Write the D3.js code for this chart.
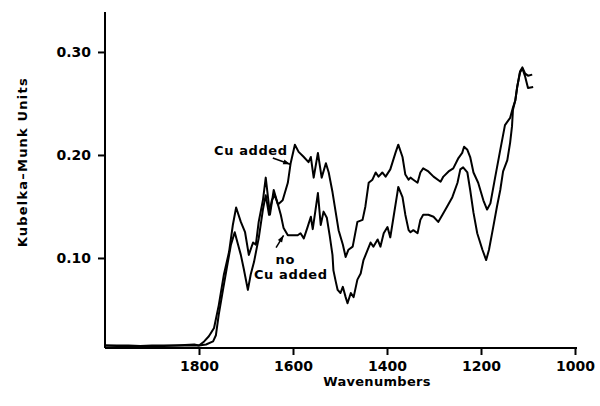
<!DOCTYPE html>
<html>
<head>
<meta charset="utf-8">
<script src="https://cdn.jsdelivr.net/npm/d3@7"></script>
<style>
  html, body { margin: 0; padding: 0; background: #fff; }
  svg text { font-family: "DejaVu Sans", sans-serif; font-weight: bold; fill: #000; }
</style>
</head>
<body>
<svg id="chart" width="600" height="406"></svg>
<script>
// Wavenumbers (cm-1) and Kubelka-Munk values
const cuAddedWave = [2000,1950,1900,1850,1810,1800,1789,1779,1768,1758,1747,1736,1728,1721,1711,1702,1694,1685,1679,1673,1664,1658,1649,1641,1632,1622,1611,1605,1596,1588,1577,1567,1562,1556,1547,1539,1530,1524,1516,1509,1503,1494,1488,1482,1473,1463,1452,1446,1439,1431,1424,1418,1410,1403,1393,1382,1376,1367,1361,1354,1350,1344,1335,1329,1323,1312,1301,1286,1280,1269,1259,1248,1240,1236,1229,1223,1216,1206,1195,1187,1180,1170,1159,1149,1138,1132,1127,1123,1117,1112,1106,1100,1091];
const cuAddedValue = [0.015,0.015,0.014,0.015,0.016,0.015,0.019,0.024,0.032,0.054,0.084,0.106,0.132,0.149,0.135,0.125,0.103,0.115,0.113,0.135,0.156,0.178,0.142,0.166,0.152,0.156,0.173,0.192,0.210,0.203,0.198,0.193,0.198,0.178,0.202,0.178,0.192,0.183,0.164,0.144,0.127,0.113,0.101,0.108,0.111,0.135,0.137,0.150,0.173,0.176,0.183,0.179,0.183,0.179,0.186,0.202,0.210,0.198,0.181,0.176,0.178,0.176,0.173,0.183,0.187,0.184,0.179,0.174,0.179,0.184,0.187,0.197,0.202,0.208,0.205,0.198,0.183,0.173,0.156,0.147,0.153,0.178,0.205,0.229,0.236,0.246,0.253,0.266,0.281,0.285,0.279,0.277,0.278];

const noCuWave = [2000,1950,1900,1850,1810,1800,1785,1770,1764,1758,1749,1741,1732,1724,1717,1711,1705,1696,1690,1683,1677,1673,1664,1658,1651,1645,1639,1632,1626,1620,1611,1590,1584,1577,1569,1562,1558,1552,1547,1541,1535,1528,1522,1516,1514,1509,1505,1499,1494,1488,1484,1477,1471,1463,1456,1450,1441,1435,1429,1420,1414,1407,1399,1393,1386,1378,1376,1367,1361,1354,1350,1344,1335,1329,1323,1312,1301,1291,1282,1272,1261,1250,1244,1238,1229,1223,1216,1208,1197,1189,1183,1174,1166,1159,1153,1144,1138,1134,1132,1127,1123,1117,1112,1106,1100,1089];
const noCuValue = [0.015,0.014,0.015,0.015,0.015,0.015,0.016,0.019,0.025,0.045,0.069,0.090,0.113,0.125,0.113,0.103,0.090,0.069,0.084,0.096,0.110,0.119,0.147,0.161,0.142,0.156,0.161,0.152,0.142,0.129,0.122,0.122,0.124,0.119,0.130,0.140,0.128,0.147,0.163,0.132,0.145,0.139,0.122,0.103,0.088,0.077,0.069,0.066,0.072,0.062,0.056,0.066,0.062,0.079,0.085,0.098,0.108,0.115,0.111,0.118,0.111,0.124,0.130,0.120,0.140,0.163,0.169,0.159,0.142,0.127,0.125,0.127,0.124,0.137,0.142,0.142,0.140,0.135,0.142,0.150,0.159,0.173,0.186,0.188,0.183,0.166,0.144,0.124,0.108,0.098,0.108,0.130,0.150,0.166,0.184,0.195,0.212,0.228,0.244,0.253,0.266,0.280,0.284,0.276,0.265,0.266];

const xTicks = [1800, 1600, 1400, 1200, 1000];
const yTicks = [0.10, 0.20, 0.30];
const yTickLabels = ["0.10", "0.20", "0.30"];

const svg = d3.select("#chart");
const x = d3.scaleLinear().domain([2000, 1000]).range([105, 575]);
const y = d3.scaleLinear().domain([0.0126, 0.3388]).range([348, 12]);

// Axes
const xAxis = d3.axisBottom(x).tickValues(xTicks).tickSize(7).tickPadding(6).tickFormat(d3.format("d"));
const gx = svg.append("g").attr("transform", `translate(0,${y.range()[0]})`).call(xAxis);
gx.select(".domain").attr("d", `M${x(2000)},0H${x(1000) + 2}`).attr("stroke", "#000").attr("stroke-width", 2);
gx.selectAll(".tick line").attr("stroke", "#000").attr("stroke-width", 2);
gx.selectAll(".tick text").attr("font-size", 14).attr("font-family", "DejaVu Sans").attr("font-weight", "bold").attr("fill", "#000");

const yAxis = d3.axisLeft(y).tickValues(yTicks).tickSize(7).tickPadding(7).tickFormat((d, i) => yTickLabels[i]);
const gy = svg.append("g").attr("transform", `translate(${x.range()[0]},0)`).call(yAxis);
gy.select(".domain").attr("d", `M0,${y.range()[0]}V${y.range()[1]}`).attr("stroke", "#000").attr("stroke-width", 2);
gy.selectAll(".tick line").attr("stroke", "#000").attr("stroke-width", 2);
gy.selectAll(".tick text").attr("font-size", 14).attr("font-family", "DejaVu Sans").attr("font-weight", "bold").attr("fill", "#000");

// Axis titles
svg.append("text").attr("x", 377).attr("y", 386)
  .attr("text-anchor", "middle").attr("font-size", 13).attr("letter-spacing", 0.3).text("Wavenumbers");
svg.append("text").attr("transform", `translate(27,${y(0.193)}) rotate(-90)`)
  .attr("text-anchor", "middle").attr("font-size", 13).attr("letter-spacing", 1.2).text("Kubelka\u2013Munk  Units");

// Curves
const line = d3.line().x(d => x(d[0])).y(d => y(d[1])).curve(d3.curveLinear);
const cuAdded = cuAddedWave.map((w, i) => [w, cuAddedValue[i]]);
const noCu = noCuWave.map((w, i) => [w, noCuValue[i]]);
[cuAdded, noCu].forEach(s => {
  svg.append("path").datum(s).attr("d", line).attr("fill", "none")
    .attr("stroke", "#000").attr("stroke-width", 2).attr("stroke-linejoin", "round");
});

// Annotations
function arrow(x1, y1, x2, y2) {
  svg.append("line").attr("x1", x1).attr("y1", y1).attr("x2", x2).attr("y2", y2)
    .attr("stroke", "#000").attr("stroke-width", 1.5);
  const a = Math.atan2(y2 - y1, x2 - x1), L = 7, W = 2.5;
  const bx = x2 - L * Math.cos(a), by = y2 - L * Math.sin(a);
  svg.append("path").attr("d",
    `M${x2},${y2}L${bx + W * Math.sin(a)},${by - W * Math.cos(a)}L${bx - W * Math.sin(a)},${by + W * Math.cos(a)}Z`)
    .attr("fill", "#000");
}
svg.append("text").attr("x", x(1768)).attr("y", y(0.1995)).attr("font-size", 13).attr("letter-spacing", 0.6).text("Cu added");
arrow(x(1643), y(0.197), x(1606), y(0.191));
svg.append("text").attr("x", x(1637)).attr("y", y(0.0945)).attr("font-size", 13).attr("letter-spacing", 0.6).text("no");
svg.append("text").attr("x", x(1683)).attr("y", y(0.080)).attr("font-size", 13).attr("letter-spacing", 0.6).text("Cu added");
arrow(x(1636), y(0.110), x(1620), y(0.122));
</script>
</body>
</html>
